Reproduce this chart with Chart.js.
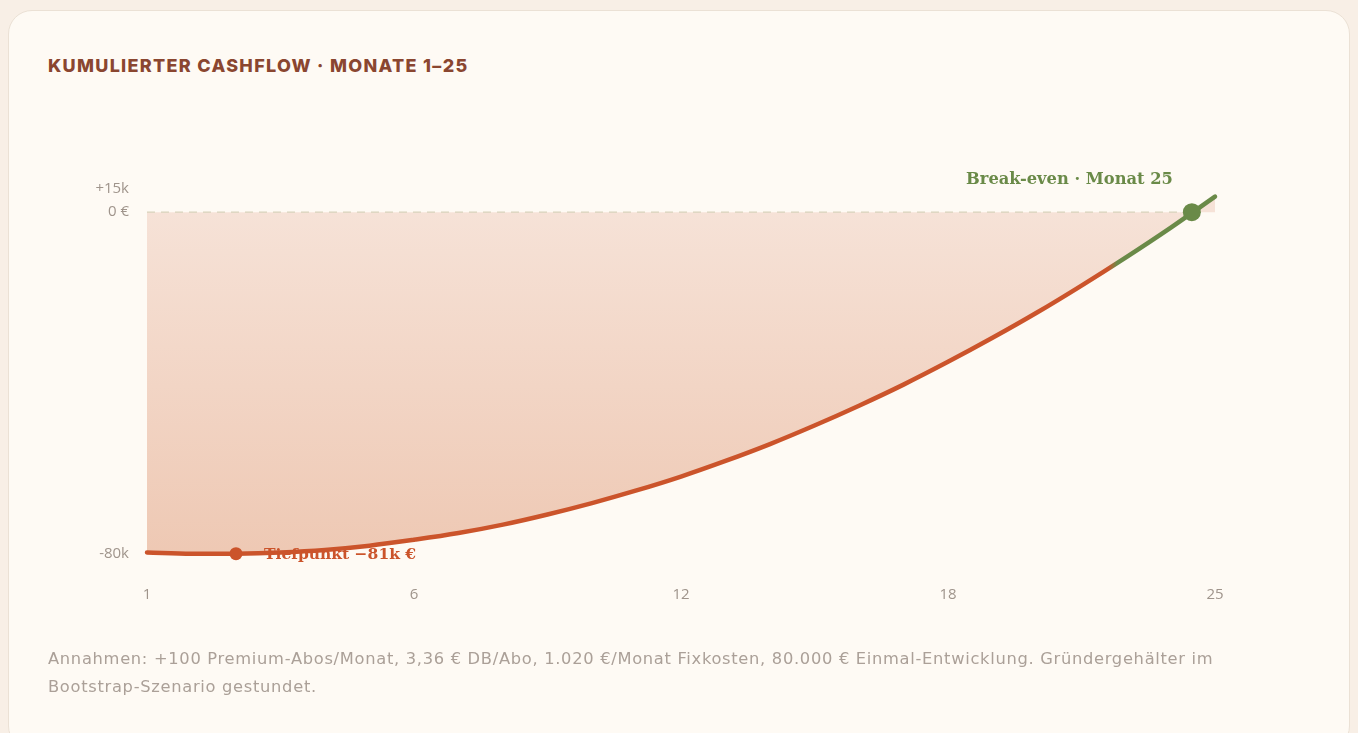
<!DOCTYPE html>
<html lang="de">
<head>
<meta charset="utf-8">
<script src="https://cdn.jsdelivr.net/npm/chart.js@4.4.1/dist/chart.umd.min.js"></script>
<style>
  html, body { margin: 0; padding: 0; }
  body { width: 1358px; height: 733px; background: #f8efe6; overflow: hidden; position: relative; font-family: "Open Sans", sans-serif; }
  .card { position: absolute; left: 8px; top: 10px; width: 1342px; height: 740px; background: #fefaf4; border: 1.5px solid #ebe1d5; border-radius: 24px; box-sizing: border-box; }
  h2 { position: absolute; left: 48px; top: 55px; margin: 0; font-family: Inter, sans-serif; font-weight: 800; font-size: 18px; letter-spacing: 1.3px; color: #8a4630; }
  .note { position: absolute; left: 48px; top: 645px; margin: 0; font-family: "DejaVu Sans", sans-serif; font-size: 16.3px; letter-spacing: 0.7px; line-height: 28px; color: #aba098; white-space: nowrap; }
  .wrap { position: absolute; left: 0; top: 0; width: 1358px; height: 733px; }
</style>
</head>
<body>
<div class="card"></div>
<h2>KUMULIERTER CASHFLOW · MONATE 1–25</h2>
<div class="wrap"><canvas id="cf"></canvas></div>
<p class="note">Annahmen: +100 Premium-Abos/Monat, 3,36 € DB/Abo, 1.020 €/Monat Fixkosten, 80.000 € Einmal-Entwicklung. Gründergehälter im<br>Bootstrap-Szenario gestundet.</p>
<script>
// months shown on the axis (index 0 = Monat 1)
const months = [1,2,3,4,5,6,7,8,9,10,11,12,13,14,15,16,17,18,19,20,21,22,23,24,25];
// cumulative cashflow in € per month
const cashflow = [-80700,-81000,-81000,-80700,-80100,-79100,-77700,-76100,-74100,-71700,-69000,-66000,-62700,-59000,-55000,-50600,-45900,-40900,-35500,-29800,-23800,-17400,-10700,-3700,3700];
const xTickPos = [0, 6, 12, 18, 24];
const xTickLabels = ['1', '6', '12', '18', '25'];
const yMin = -82500, yMax = 5500;
const yTicks = [-81000, 0, yMax];
const yTickLabels = ['-80k', '0 €', '+15k'];
const lowPoint = { x: 2, y: -81000, label: 'Tiefpunkt −81k €' };
const breakEven = { x: 23.48, y: 0, label: 'Break-even · Monat 25' };
const greenFrom = 21.7;

const RED = '#cb542b', GREEN = '#6a8a48';

const annotate = {
  id: 'annotate',
  afterDatasetDraw(chart, args) {
    if (args.index !== 0) return;
    // dashed zero line on top of the area fill
    const c = chart.ctx, a = chart.chartArea, y0 = chart.scales.y.getPixelForValue(0);
    c.save();
    c.strokeStyle = '#d8d2ba';
    c.lineWidth = 1.2;
    c.setLineDash([8, 6]);
    c.beginPath();
    c.moveTo(a.left, y0);
    c.lineTo(chart.scales.x.getPixelForValue(breakEven.x), y0);
    c.stroke();
    c.restore();
  },
  afterDatasetsDraw(chart) {
    const c = chart.ctx, sx = chart.scales.x, sy = chart.scales.y;
    c.save();
    c.textBaseline = 'middle';
    c.font = 'bold 15.5px "DejaVu Serif", serif';
    c.fillStyle = RED;
    c.textAlign = 'left';
    c.fillText(lowPoint.label, sx.getPixelForValue(lowPoint.x) + 28, sy.getPixelForValue(lowPoint.y) + 1);
    c.font = 'bold 16.3px "DejaVu Serif", serif';
    c.fillStyle = GREEN;
    c.textAlign = 'right';
    c.fillText(breakEven.label, sx.getPixelForValue(breakEven.x) - 19, sy.getPixelForValue(breakEven.y) - 32);
    c.restore();
  }
};

new Chart(document.getElementById('cf'), {
  type: 'line',
  data: {
    datasets: [{
      data: cashflow.map((v, i) => ({ x: i, y: v })),
      borderWidth: 4.5,
      borderCapStyle: 'round',
      borderColor(ctx) {
        const a = ctx.chart.chartArea;
        if (!a) return RED;
        const p = (ctx.chart.scales.x.getPixelForValue(greenFrom) - a.left) / (a.right - a.left);
        const g = ctx.chart.ctx.createLinearGradient(a.left, 0, a.right, 0);
        g.addColorStop(0, RED);
        g.addColorStop(p - 0.004, RED);
        g.addColorStop(p + 0.004, GREEN);
        g.addColorStop(1, GREEN);
        return g;
      },
      backgroundColor(ctx) {
        const a = ctx.chart.chartArea;
        if (!a) return '#f2d6c6';
        const g = ctx.chart.ctx.createLinearGradient(0, ctx.chart.scales.y.getPixelForValue(0), 0, a.bottom);
        g.addColorStop(0, '#f6e2d7');
        g.addColorStop(1, '#eec8b3');
        return g;
      },
      fill: 'origin',
      tension: 0.35,
      pointRadius: 0,
      clip: false,
      order: 2
    }, {
      type: 'scatter',
      data: [lowPoint],
      pointRadius: 6.5,
      pointBackgroundColor: RED,
      pointBorderWidth: 0,
      clip: false,
      order: 1
    }, {
      type: 'scatter',
      data: [breakEven],
      pointRadius: 9,
      pointBackgroundColor: GREEN,
      pointBorderWidth: 0,
      clip: false,
      order: 1
    }]
  },
  options: {
    responsive: true,
    maintainAspectRatio: false,
    animation: false,
    layout: { padding: { left: 0, top: 189, right: 143, bottom: 0 } },
    plugins: { legend: { display: false }, tooltip: { enabled: false } },
    scales: {
      x: {
        type: 'linear',
        min: 0, max: 24,
        afterBuildTicks(s) { s.ticks = xTickPos.map(v => ({ value: v })); },
        afterFit(s) { s.height = 173; },
        grid: { display: false, drawTicks: false },
        border: { display: false },
        ticks: {
          padding: 26,
          color: '#9f948b',
          font: { family: '"Open Sans"', size: 15 },
          callback: (v) => xTickLabels[xTickPos.indexOf(v)]
        }
      },
      y: {
        min: yMin, max: yMax,
        afterBuildTicks(s) { s.ticks = yTicks.map(v => ({ value: v })); },
        afterFit(s) { s.width = 147; },
        grid: { display: false, drawTicks: false },
        border: { display: false },
        ticks: {
          padding: 18,
          color: '#9f948b',
          font: { family: '"Open Sans"', size: 15 },
          callback: (v) => yTickLabels[yTicks.indexOf(v)]
        }
      }
    }
  },
  plugins: [annotate]
});
</script>
</body>
</html>
